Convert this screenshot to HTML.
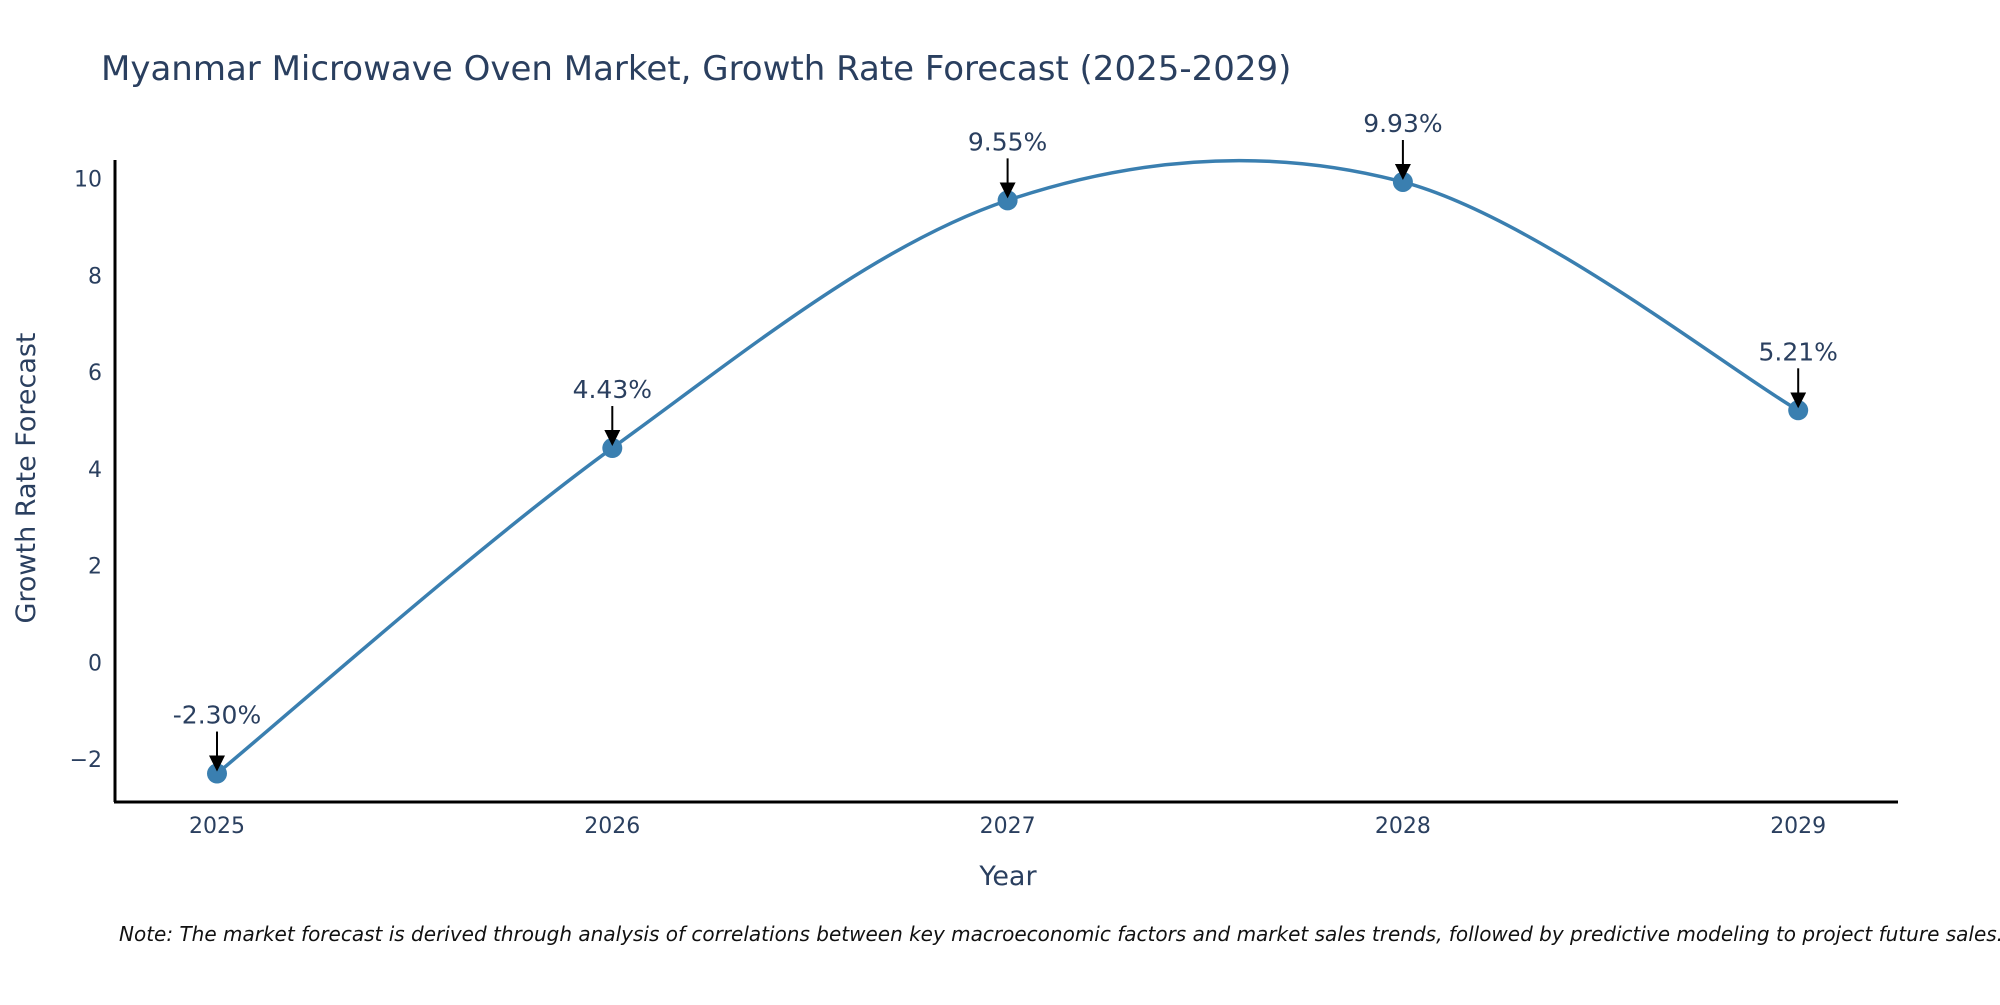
<!DOCTYPE html>
<html><head><meta charset="utf-8"><style>
body{margin:0;background:#fff;}
svg text{font-family:"DejaVu Sans","Liberation Sans",sans-serif;fill:#2a3f5f;}
</style></head><body>
<svg id="chart" width="2000" height="1000">
<defs><marker id="ah" markerWidth="16" markerHeight="16" refX="14" refY="8" orient="auto" markerUnits="userSpaceOnUse" viewBox="0 0 16 16"><path d="M0,0 L16,8 L0,16 z" fill="#000"/></marker></defs>
<text x="101" y="80" font-size="34">Myanmar Microwave Oven Market, Growth Rate Forecast (2025-2029)</text>
<g id="yticks"></g><g id="xticks"></g>
<line x1="115" y1="160" x2="115" y2="802" stroke="#000" stroke-width="3"/>
<line x1="114" y1="802" x2="1898" y2="802" stroke="#000" stroke-width="3"/>
<path id="line" fill="none" stroke="#3a7fb0" stroke-width="3.5"/>
<g id="marks"></g>
<text x="1008" y="885" font-size="27" text-anchor="middle">Year</text>
<text transform="translate(35,478) rotate(-90)" font-size="27" text-anchor="middle">Growth Rate Forecast</text>
<text x="119" y="941" font-size="20" font-style="italic" style="fill:#111">Note: The market forecast is derived through analysis of correlations between key macroeconomic factors and market sales trends, followed by predictive modeling to project future sales.</text>
</svg>
<script>
const years=[2025,2026,2027,2028,2029];
const values=[-2.30,4.43,9.55,9.93,5.21];
const labels=["-2.30%","4.43%","9.55%","9.93%","5.21%"];
const yTicks=[-2,0,2,4,6,8,10];
const yTickLabels=["\u22122","0","2","4","6","8","10"];
const NS="http://www.w3.org/2000/svg";
function xs(yr){return 217+(yr-2025)*395.3;}
function ys(v){return 662.3-v*48.37;}
function mk(t,a,p){const e=document.createElementNS(NS,t);for(const k in a)e.setAttribute(k,a[k]);p.appendChild(e);return e;}
const yt=document.getElementById('yticks');
yTicks.forEach((v,i)=>{const t=mk('text',{x:102,y:ys(v)+8,'font-size':22,'text-anchor':'end'},yt);t.textContent=yTickLabels[i];

});
const xt=document.getElementById('xticks');
years.forEach(y=>{const t=mk('text',{x:xs(y),y:833,'font-size':22,'text-anchor':'middle'},xt);t.textContent=y;

});
const P=years.map((y,i)=>[xs(y),ys(values[i])]);
let d='M'+P[0][0]+','+P[0][1];
for(let i=0;i<P.length-1;i++){const p0=P[Math.max(0,i-1)],p1=P[i],p2=P[i+1],p3=P[Math.min(P.length-1,i+2)];
const c1=[p1[0]+(p2[0]-p0[0])/6,p1[1]+(p2[1]-p0[1])/6],c2=[p2[0]-(p3[0]-p1[0])/6,p2[1]-(p3[1]-p1[1])/6];
d+=` C${c1[0]},${c1[1]} ${c2[0]},${c2[1]} ${p2[0]},${p2[1]}`;}
document.getElementById('line').setAttribute('d',d);
const g=document.getElementById('marks');
P.forEach((p,i)=>{const c=mk('circle',{cx:p[0],cy:p[1],r:10,fill:'#3a7fb0'},g);


const a=mk('line',{x1:p[0],y1:p[1]-42,x2:p[0],y2:p[1]-4,stroke:'#000','stroke-width':2,'marker-end':'url(#ah)'},g);


const t=mk('text',{x:p[0],y:p[1]-50,'font-size':25,'text-anchor':'middle'},g);t.textContent=labels[i];

});
</script>
</body></html>
